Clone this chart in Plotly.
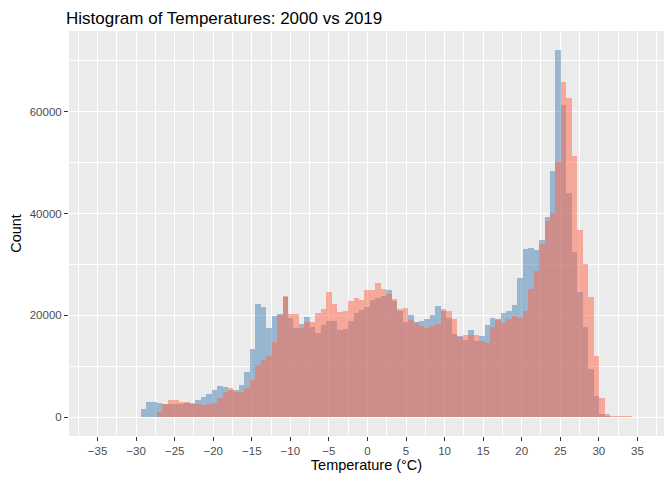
import numpy as np
import plotly.graph_objects as go

# histogram bins (°C)
bin_start = -29.41
bin_width = 0.7077

# counts per bin
counts_2000 = [
    1570, 2950, 2950, 2750, 2560, 2560, 2560, 2620, 2750, 2620,
    3340, 3930, 4520, 5310, 6090, 5900, 5310, 5310, 6290, 8850,
    13370, 22210, 21620, 17500, 19860, 20250, 23590, 19460, 17500, 18280,
    19660, 17690, 16510, 18090, 18870, 18870, 17100, 17400, 18870, 20450,
    21040, 21620, 23000, 23390, 23790, 24970, 22900, 20840, 18680, 20050,
    18680, 18870, 19270, 20050, 21820, 20840, 19460, 16320, 15920, 15140,
    17100, 14940, 15920, 18090, 19460, 19270, 20450, 20840, 22020, 27330,
    33030, 33220, 32830, 34800, 39320, 48360, 72150, 61340, 44040, 32440,
    24570, 17690, 9440, 4130, 590, 200, 100, 50, 0, 0,
]
counts_2019 = [
    0, 0, 0, 980, 2560, 3470, 3340, 2950, 2950, 2820,
    2560, 2360, 2560, 2750, 3740, 4920, 5700, 4920, 4920, 5700,
    7270, 10220, 11210, 11990, 14740, 20050, 23790, 20250, 20250, 17500,
    18680, 18680, 20450, 21230, 24570, 22210, 20640, 20940, 22800, 23390,
    23000, 24970, 24970, 26340, 25160, 24180, 23200, 21330, 21430, 19070,
    18480, 17890, 17500, 17890, 18280, 21230, 20840, 19270, 15730, 16120,
    16120, 16120, 14940, 14550, 17690, 19070, 18480, 19270, 19860, 19460,
    20840, 25160, 28700, 34010, 38530, 40100, 50130, 65860, 62710, 51310,
    36760, 30080, 23590, 11990, 3740, 590, 200, 200, 200, 150,
]
x_ticks = list(range(-35, 40, 5))
y_ticks = [0, 20000, 40000, 60000]
y_tick_labels = ["0", "20000", "40000", "60000"]

centers = bin_start + bin_width * (np.arange(len(counts_2000)) + 0.5)

fig = go.Figure()
fig.add_trace(go.Bar(
    x=centers, y=counts_2000, width=bin_width, name="2000",
    marker=dict(color="rgba(70,130,180,0.5)", line=dict(width=0)),
))
fig.add_trace(go.Bar(
    x=centers, y=counts_2019, width=bin_width, name="2019",
    marker=dict(color="rgba(255,99,71,0.5)", line=dict(width=0)),
))

# the page body has an 8px margin, so the figure is a little smaller than the window
W, H = 664, 472
axis_font = dict(family="Liberation Sans, Arial, sans-serif", size=11.5, color="#4D4D4D")
fig.update_layout(
    width=W, height=H,
    barmode="overlay", bargap=0, showlegend=False,
    paper_bgcolor="white", plot_bgcolor="#EBEBEB",
    margin=dict(l=58, r=8, t=23, b=44),
    font=dict(family="Liberation Sans, Arial, sans-serif", color="black"),
    title=dict(text="Histogram of Temperatures: 2000 vs 2019",
               x=58 / W, xanchor="left", y=1 - 10 / H, yanchor="middle",
               font=dict(size=17, color="black")),
    xaxis=dict(
        range=[-38.7, 38.45], tickvals=x_ticks, ticks="outside", ticklen=4,
        tickcolor="#333333", tickfont=axis_font, showgrid=True,
        gridcolor="white", gridwidth=1.1, zeroline=False, showline=False,
        minor=dict(dtick=2.5, tick0=-37.5, showgrid=True, gridcolor="white", gridwidth=0.5),
        title=dict(text="Temperature (°C)", font=dict(size=14.5, color="black"), standoff=2),
    ),
    yaxis=dict(
        range=[-3700, 75850], tickvals=y_ticks, ticktext=y_tick_labels,
        ticks="outside", ticklen=4,
        tickcolor="#333333", tickfont=axis_font, showgrid=True,
        gridcolor="white", gridwidth=1.1, zeroline=False, showline=False,
        minor=dict(dtick=10000, tick0=0, showgrid=True, gridcolor="white", gridwidth=0.5),
        title=dict(text="Count", font=dict(size=14.5, color="black"), standoff=4),
    ),
)

fig.write_html("out.html")
